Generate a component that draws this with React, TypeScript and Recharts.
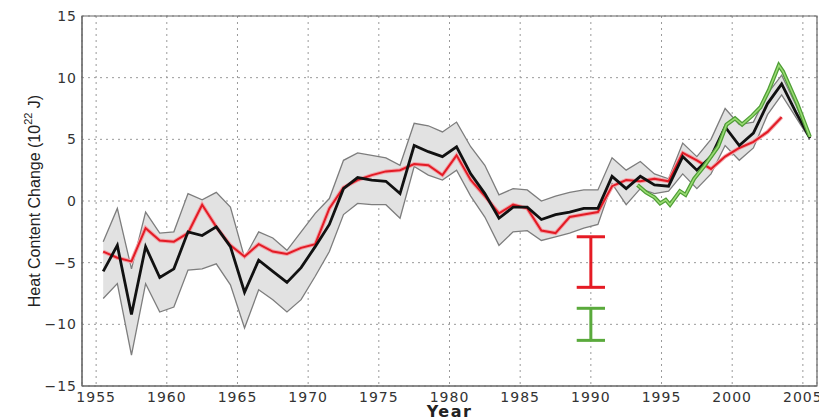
import {
  ComposedChart,
  Line,
  Area,
  XAxis,
  YAxis,
  CartesianGrid,
  ReferenceArea,
  ReferenceLine,
} from 'recharts';

// yearly values are plotted at mid-year, 1955.5 .. 2005.5
const startYear = 1955.5;

const blackValues = [
  -5.7, -3.6, -9.2, -3.7, -6.2, -5.5, -2.5, -2.8, -2.1, -3.7,
  -7.4, -4.8, -5.7, -6.6, -5.4, -3.7, -1.9, 1.0, 1.9, 1.7,
  1.6, 0.6, 4.5, 4.0, 3.6, 4.4, 2.2, 0.6, -1.4, -0.5,
  -0.5, -1.5, -1.1, -0.9, -0.6, -0.6, 2.0, 1.0, 2.0, 1.3,
  1.2, 3.6, 2.5, 3.6, 6.0, 4.5, 5.5, 7.9, 9.5, 7.2,
  5.1,
];

const upperValues = [
  -3.3, -0.6, -5.5, -0.9, -2.6, -2.5, 0.6, 0.1, 0.7, -0.5,
  -4.6, -2.5, -3.0, -4.0, -2.5, -1.0, 0.2, 3.3, 3.9, 3.7,
  3.5, 2.9, 6.3, 6.1, 5.6, 6.4, 4.4, 2.9, 0.5, 1.0,
  0.9, 0.0, 0.4, 0.7, 0.9, 0.9, 3.5, 2.5, 3.2, 2.2,
  1.8, 4.7, 3.6, 5.0, 7.5, 6.2, 6.4, 8.7, 10.2, 7.8,
  5.1,
];

const lowerValues = [
  -7.9, -6.7, -12.5, -6.7, -9.0, -8.6, -5.6, -5.5, -5.1, -6.8,
  -10.3, -7.2, -8.0, -9.0, -8.0, -6.1, -4.1, -1.1, -0.2, -0.3,
  -0.3, -1.4, 2.8, 2.1, 1.7, 2.5, 0.4, -1.3, -3.6, -2.5,
  -2.4, -3.2, -2.9, -2.6, -2.2, -1.9, 1.4, -0.3, 1.0, 0.6,
  0.8, 2.2, 1.0, 2.2, 4.5, 3.3, 4.3, 7.0, 8.6, 6.8,
  5.0,
];

// red series stops at 2003.5
const redValues = [
  -4.1, -4.6, -4.9, -2.2, -3.2, -3.3, -2.6, -0.3, -2.1, -3.6,
  -4.5, -3.5, -4.1, -4.3, -3.8, -3.5, -0.6, 1.1, 1.7, 2.1,
  2.4, 2.5, 3.0, 2.9, 2.1, 3.7, 1.7, 0.4, -1.0, -0.3,
  -0.6, -2.4, -2.6, -1.3, -1.1, -0.9, 1.2, 1.7, 1.6, 1.8,
  1.6, 3.9, 3.3, 2.6, 3.6, 4.3, 4.8, 5.6, 6.8,
];

const greenYears = [
  1993.3, 1993.9, 1994.5, 1994.9, 1995.3, 1995.6, 1996.3, 1996.7, 1997.3, 1998.0,
  1999.0, 1999.6, 2000.2, 2000.7, 2001.4, 2002.0, 2002.6, 2003.3, 2003.6, 2004.6,
  2005.5,
];
const greenValues = [
  1.3, 0.7, 0.3, -0.2, 0.1, -0.3, 0.8, 0.5, 1.8, 2.8,
  4.4, 6.2, 6.7, 6.2, 6.9, 7.6, 9.0, 11.0, 10.5, 7.9,
  5.2,
];

const xTicks = [1955, 1960, 1965, 1970, 1975, 1980, 1985, 1990, 1995, 2000, 2005];
const yTicks = [-15, -10, -5, 0, 5, 10, 15];

// error bars drawn at 1990: [bottom, top]
const errorBarYear = 1990;
const capHalfWidth = 1;
const redErrorBar = [-7.0, -2.9];
const greenErrorBar = [-11.3, -8.7];

const data = blackValues.map((v, i) => ({
  year: startYear + i,
  black: v,
  upper: upperValues[i],
  lower: lowerValues[i],
  band: [lowerValues[i], upperValues[i]],
  red: i < redValues.length ? redValues[i] : null,
}));

const greenData = greenYears.map((y, i) => ({ year: y, green: greenValues[i] }));

const FONT = '"DejaVu Sans", "Liberation Sans", Arial, sans-serif';

function YTitle(props: any) {
  const vb = props.viewBox || { x: 0, y: 16, width: 82, height: 370 };
  const cx = vb.x + 34;
  const cy = vb.y + vb.height / 2;
  return (
    <text
      x={cx}
      y={cy}
      transform={`rotate(-90, ${cx}, ${cy})`}
      textAnchor="middle"
      dominantBaseline="central"
      fontSize={16}
      fill="#222"
      fontFamily='"Liberation Sans", Arial, sans-serif'
    >
      Heat Content Change (10
      <tspan dy={-6} fontSize={11}>22</tspan>
      <tspan dy={6}> J)</tspan>
    </text>
  );
}

const minus = (v: number) => String(v).replace('-', '\u2212');

export default function App() {
  const bars = [
    { range: redErrorBar, color: '#e51b24' },
    { range: greenErrorBar, color: '#5aaa3c' },
  ];
  return (
    <div style={{ position: 'absolute', left: 0, top: 0, width: 819, height: 417, background: '#fff' }}>
      <ComposedChart
        width={819}
        height={417}
        data={data}
        margin={{ top: 16, right: 2, bottom: 0, left: 0 }}
      >
        <CartesianGrid stroke="#9a9a9a" strokeDasharray="2 4" />
        <XAxis
          dataKey="year"
          type="number"
          domain={[1954, 2006]}
          ticks={xTicks}
          allowDataOverflow
          height={31}
          tickLine={false}
          tickSize={4}
          tickMargin={2}
          axisLine={{ stroke: '#666' }}
          tick={{ fill: '#333', fontSize: 14, fontFamily: FONT, letterSpacing: 1 }}
          label={{
            value: 'Year',
            position: 'insideBottom',
            offset: 0,
            fill: '#222',
            fontSize: 16,
            fontWeight: 'bold',
            letterSpacing: 1.5,
            fontFamily: FONT,
          }}
        />
        <YAxis
          type="number"
          domain={[-15, 15]}
          ticks={yTicks}
          allowDataOverflow
          width={82}
          tickLine={false}
          tickSize={2}
          tickMargin={3}
          tickFormatter={minus}
          axisLine={{ stroke: '#666' }}
          tick={{ fill: '#333', fontSize: 14, fontFamily: FONT, letterSpacing: 1 }}
          label={<YTitle />}
        />
        <ReferenceArea
          x1={1954}
          x2={2006}
          y1={-15}
          y2={15}
          fill="none"
          stroke="#666"
          strokeWidth={1.2}
        />
        <Area
          dataKey="band"
          type="linear"
          fill="#e2e2e2"
          fillOpacity={1}
          stroke="none"
          isAnimationActive={false}
          activeDot={false}
        />
        <Line dataKey="upper" type="linear" stroke="#7d7d7d" strokeWidth={1.3} dot={false} isAnimationActive={false} />
        <Line dataKey="lower" type="linear" stroke="#7d7d7d" strokeWidth={1.3} dot={false} isAnimationActive={false} />
        <Line dataKey="red" type="linear" stroke="#f2a2a8" strokeWidth={4} dot={false} isAnimationActive={false} />
        <Line dataKey="red" type="linear" stroke="#e31b25" strokeWidth={2} dot={false} isAnimationActive={false} />
        <Line dataKey="black" type="linear" stroke="#111" strokeWidth={2.8} dot={false} isAnimationActive={false} />
        <Line
          data={greenData}
          dataKey="green"
          type="linear"
          stroke="#4f9e36"
          strokeWidth={4}
          dot={false}
          isAnimationActive={false}
        />
        <Line
          data={greenData}
          dataKey="green"
          type="linear"
          stroke="#9bdc74"
          strokeWidth={1.5}
          dot={false}
          isAnimationActive={false}
        />
        {bars.map((b) => [
          <ReferenceLine
            key={b.color + 'v'}
            segment={[
              { x: errorBarYear, y: b.range[0] },
              { x: errorBarYear, y: b.range[1] },
            ]}
            stroke={b.color}
            strokeWidth={3}
          />,
          <ReferenceLine
            key={b.color + 't'}
            segment={[
              { x: errorBarYear - capHalfWidth, y: b.range[1] },
              { x: errorBarYear + capHalfWidth, y: b.range[1] },
            ]}
            stroke={b.color}
            strokeWidth={3}
          />,
          <ReferenceLine
            key={b.color + 'b'}
            segment={[
              { x: errorBarYear - capHalfWidth, y: b.range[0] },
              { x: errorBarYear + capHalfWidth, y: b.range[0] },
            ]}
            stroke={b.color}
            strokeWidth={3}
          />,
        ])}
      </ComposedChart>
    </div>
  );
}
